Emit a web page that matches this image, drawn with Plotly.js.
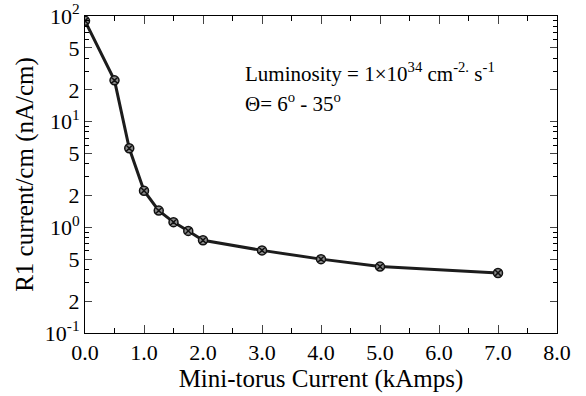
<!DOCTYPE html>
<html>
<head>
<meta charset="utf-8">
<script src="https://cdn.plot.ly/plotly-3.0.1.min.js"></script>
</head>
<body style="margin:0">
<div id="chart" style="width:586px;height:396px"></div>
<script>
// Mini-torus current (kAmps) vs. R1 current per cm (nA/cm)
var torusCurrent = [0.0, 0.5, 0.75, 1.0, 1.25, 1.5, 1.75, 2.0, 3.0, 4.0, 5.0, 7.0];
var r1Current    = [90, 24.6, 5.6, 2.22, 1.44, 1.12, 0.925, 0.755, 0.605, 0.5, 0.425, 0.37];

// Log-axis labels: decades as powers of ten, plus 2 and 5 inside each decade
var yTickVals = [0.1, 0.2, 0.5, 1, 2, 5, 10, 20, 50, 100];
var yTickText = ['10<sup>-1</sup>', '2', '5', '10<sup>0</sup>', '2', '5',
                 '10<sup>1</sup>', '2', '5', '10<sup>2</sup>'];
var yMinorVals = [0.3, 0.4, 0.6, 0.7, 0.8, 0.9, 3, 4, 6, 7, 8, 9, 30, 40, 60, 70, 80, 90];

var xTickVals = [0, 1, 2, 3, 4, 5, 6, 7, 8];
var xTickText = ['0.0', '1.0', '2.0', '3.0', '4.0', '5.0', '6.0', '7.0', '8.0'];
var xMinorVals = [0.5, 1.5, 2.5, 3.5, 4.5, 5.5, 6.5, 7.5];

var serif = 'Liberation Serif';

var trace = {
  x: torusCurrent,
  y: r1Current,
  mode: 'lines+markers',
  type: 'scatter',
  line: { color: '#1c1c1c', width: 3 },
  marker: {
    symbol: 'circle-x',
    size: 9,
    color: '#8a8a8a',
    line: { color: '#111', width: 1.5 }
  },
  hoverinfo: 'skip',
  showlegend: false
};

var layout = {
  width: 586,
  height: 396,
  margin: { l: 85, r: 29, t: 16, b: 63 },
  font: { family: serif, color: '#000', size: 20 },
  xaxis: {
    range: [0, 8],
    tickmode: 'array',
    tickvals: xTickVals,
    ticktext: xTickText,
    ticks: 'inside',
    ticklen: 8,
    minor: { tickmode: 'array', tickvals: xMinorVals, ticks: 'inside', ticklen: 5, tickcolor: '#000', showgrid: false },
    showline: true,
    linecolor: '#000',
    mirror: 'allticks',
    showgrid: false,
    zeroline: false,
    tickfont: { family: serif, size: 22 },
    title: { text: 'Mini-torus Current (kAmps)', font: { family: serif, size: 25 }, standoff: 0 }
  },
  yaxis: {
    type: 'log',
    range: [-1, 2],
    tickmode: 'array',
    tickvals: yTickVals,
    ticktext: yTickText,
    ticks: 'inside',
    ticklen: 7,
    minor: { tickmode: 'array', tickvals: yMinorVals, ticks: 'inside', ticklen: 4, tickcolor: '#000', showgrid: false },
    showline: true,
    linecolor: '#000',
    mirror: 'allticks',
    showgrid: false,
    zeroline: false,
    tickfont: { family: serif, size: 22 },
    title: { text: 'R1 current/cm (nA/cm)', font: { family: serif, size: 25 }, standoff: 4 }
  },
  annotations: [
    {
      xref: 'paper', yref: 'paper',
      x: 0.335, y: 0.823, xanchor: 'left', yanchor: 'middle',
      showarrow: false,
      text: 'Luminosity = 1\u00d710<sup>34</sup> cm<sup>-2.</sup> s<sup>-1</sup>',
      font: { family: serif, size: 21 }
    },
    {
      xref: 'paper', yref: 'paper',
      x: 0.335, y: 0.726, xanchor: 'left', yanchor: 'middle',
      showarrow: false,
      text: '\u0398= 6<sup>o</sup> - 35<sup>o</sup>',
      font: { family: serif, size: 21 }
    }
  ]
};

var config = { displayModeBar: false, staticPlot: true };

function draw() {
  return Plotly.newPlot('chart', [trace], layout, config);
}

draw();

// Redraw once the serif face is ready so labels are laid out with it
if (document.fonts && document.fonts.load) {
  Promise.all([
    document.fonts.load('22px "Liberation Serif"', '0123456789.'),
    document.fonts.load('25px "Liberation Serif"', 'Mini-torus Current (kAmps)'),
    document.fonts.load('21px "Liberation Serif"', 'Luminosity \u00d7 \u0398')
  ]).then(draw, draw);
}
</script>
</body>
</html>
